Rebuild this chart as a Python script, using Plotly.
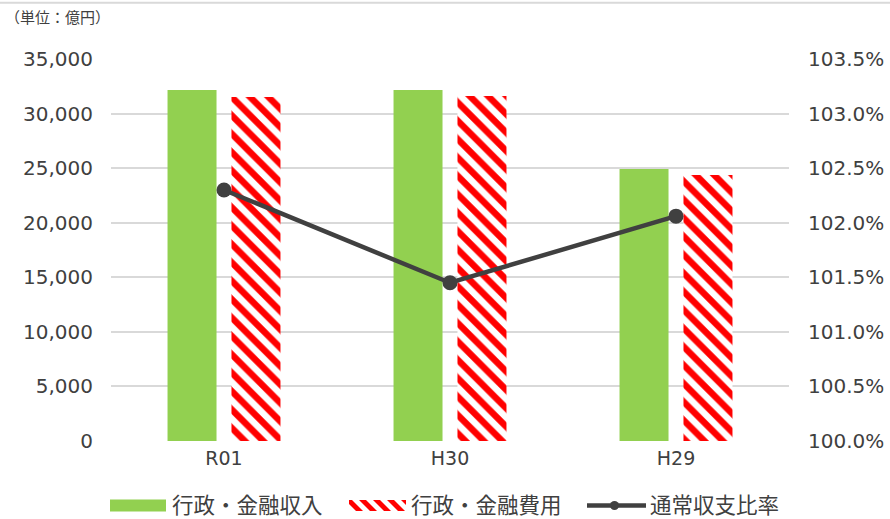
import plotly.graph_objects as go

# ---- data ----
categories = ["R01", "H30", "H29"]
income = [32160, 32160, 24920]      # 行政・金融収入 (億円)
expense = [31520, 31600, 24370]     # 行政・金融費用 (億円)
ratio = [102.30, 101.45, 102.06]    # 通常収支比率 (%)

left_ticks = [0, 5000, 10000, 15000, 20000, 25000, 30000, 35000]
right_ticks = [100.0, 100.5, 101.0, 101.5, 102.0, 102.5, 103.0, 103.5]

W, H = 890, 519
L, R, T, B = 111, 101, 59, 78
PW, PH = W - L - R, H - T - B

TXT = "#404040"
GRID = "#d9d9d9"
GREEN = "#92d050"
RED = "#ff0000"
NUM_FONT = "DejaVu Sans"
JP_FONT = "Noto Sans CJK JP"


def px(x):
    return (x - L) / PW


def py(y):
    return (H - B - y) / PH


fig = go.Figure()
fig.add_trace(go.Bar(
    x=categories, y=income, name="行政・金融収入",
    marker=dict(color=GREEN, line=dict(width=0)),
    showlegend=False,
))
fig.add_trace(go.Bar(
    x=categories, y=expense, name="行政・金融費用",
    marker=dict(color=RED, line=dict(width=0),
                pattern=dict(shape="\\", fillmode="overlay", fgcolor="white",
                             fgopacity=1, size=13, solidity=0.5)),
    showlegend=False,
))
fig.add_trace(go.Scatter(
    x=categories, y=ratio, name="通常収支比率", yaxis="y2",
    mode="lines+markers",
    line=dict(color="#404040", width=4.5),
    marker=dict(color="#404040", size=15),
    showlegend=False,
))

shapes = []
annotations = []

# thin frame line across the top
shapes.append(dict(type="line", xref="paper", yref="paper",
                   x0=px(0), x1=px(W), y0=py(2.7), y1=py(2.7),
                   line=dict(color=GRID, width=2)))

# unit caption
annotations.append(dict(text="（単位：億円）", xref="paper", yref="paper",
                        x=px(3), y=py(17), xanchor="left", yanchor="middle",
                        showarrow=False, font=dict(family=JP_FONT, size=15, color=TXT)))

# ---- custom legend ----
ly = 505.5
# green swatch
shapes.append(dict(type="rect", xref="paper", yref="paper",
                   x0=px(110), x1=px(166), y0=py(ly - 6), y1=py(ly + 6),
                   fillcolor=GREEN, line=dict(width=0)))

# red / white striped swatch
sx0, sx1, sy0, sy1 = 349, 406, ly - 5.5, ly + 5.5
shapes.append(dict(type="rect", xref="paper", yref="paper",
                   x0=px(sx0), x1=px(sx1), y0=py(sy0), y1=py(sy1),
                   fillcolor=RED, line=dict(width=0)))


def clip(poly, xmin, xmax):
    def cut(pts, inside, inter):
        out = []
        for i in range(len(pts)):
            a, b = pts[i - 1], pts[i]
            ia, ib = inside(a), inside(b)
            if ib:
                if not ia:
                    out.append(inter(a, b))
                out.append(b)
            elif ia:
                out.append(inter(a, b))
        return out

    def ix(xc):
        return lambda a, b: (xc, a[1] + (b[1] - a[1]) * (xc - a[0]) / (b[0] - a[0]))

    pts = cut(poly, lambda p: p[0] >= xmin, ix(xmin))
    if pts:
        pts = cut(pts, lambda p: p[0] <= xmax, ix(xmax))
    return pts


period = 14
sh = sy1 - sy0
xs = sx0 - sh - period
while xs < sx1 + period:
    quad = [(xs, sy0), (xs + period / 2, sy0), (xs + period / 2 + sh, sy1), (xs + sh, sy1)]
    c = clip(quad, sx0, sx1)
    if len(c) >= 3:
        path = "M " + " L ".join(f"{px(p[0]):.5f},{py(p[1]):.5f}" for p in c) + " Z"
        shapes.append(dict(type="path", xref="paper", yref="paper", path=path,
                           fillcolor="white", line=dict(width=0)))
    xs += period

# line swatch
shapes.append(dict(type="line", xref="paper", yref="paper",
                   x0=px(587), x1=px(646), y0=py(ly), y1=py(ly),
                   line=dict(color="#404040", width=4.5)))
shapes.append(dict(type="circle", xref="paper", yref="paper",
                   x0=px(610), x1=px(619), y0=py(ly - 4.5), y1=py(ly + 4.5),
                   fillcolor="#404040", line=dict(width=0)))

for label, x in [("行政・金融収入", 171), ("行政・金融費用", 410), ("通常収支比率", 649)]:
    annotations.append(dict(text=label, xref="paper", yref="paper",
                            x=px(x), y=py(503.5), xanchor="left", yanchor="middle",
                            borderpad=0, showarrow=False,
                            font=dict(family=JP_FONT, size=21.5, color=TXT)))

fig.update_layout(
    width=W, height=H,
    margin=dict(l=L, r=R, t=T, b=B, pad=0, autoexpand=False),
    paper_bgcolor="white", plot_bgcolor="white",
    barmode="group", bargap=0.434, bargroupgap=0.234,
    showlegend=False,
    xaxis=dict(showgrid=False, showline=False, zeroline=False, ticks="",
               automargin=False,
               tickfont=dict(family=NUM_FONT, size=19, color=TXT),
               ticklabelstandoff=4),
    yaxis=dict(range=[0, 35000], tickvals=left_ticks, tickformat=",",
               showgrid=True, gridcolor=GRID, gridwidth=1.5,
               zeroline=False, showline=False, ticks="", automargin=False,
               ticklabelstandoff=17,
               tickfont=dict(family=NUM_FONT, size=20, color=TXT)),
    yaxis2=dict(range=[100.0, 103.5], tickvals=right_ticks,
                ticktext=[f"{v:.1f}%" for v in right_ticks],
                overlaying="y", side="right", automargin=False,
                showgrid=False, zeroline=False, showline=False, ticks="",
                ticklabelstandoff=18,
                tickfont=dict(family=NUM_FONT, size=20, color=TXT)),
    shapes=shapes,
    annotations=annotations,
)

fig.write_html("out.html")
